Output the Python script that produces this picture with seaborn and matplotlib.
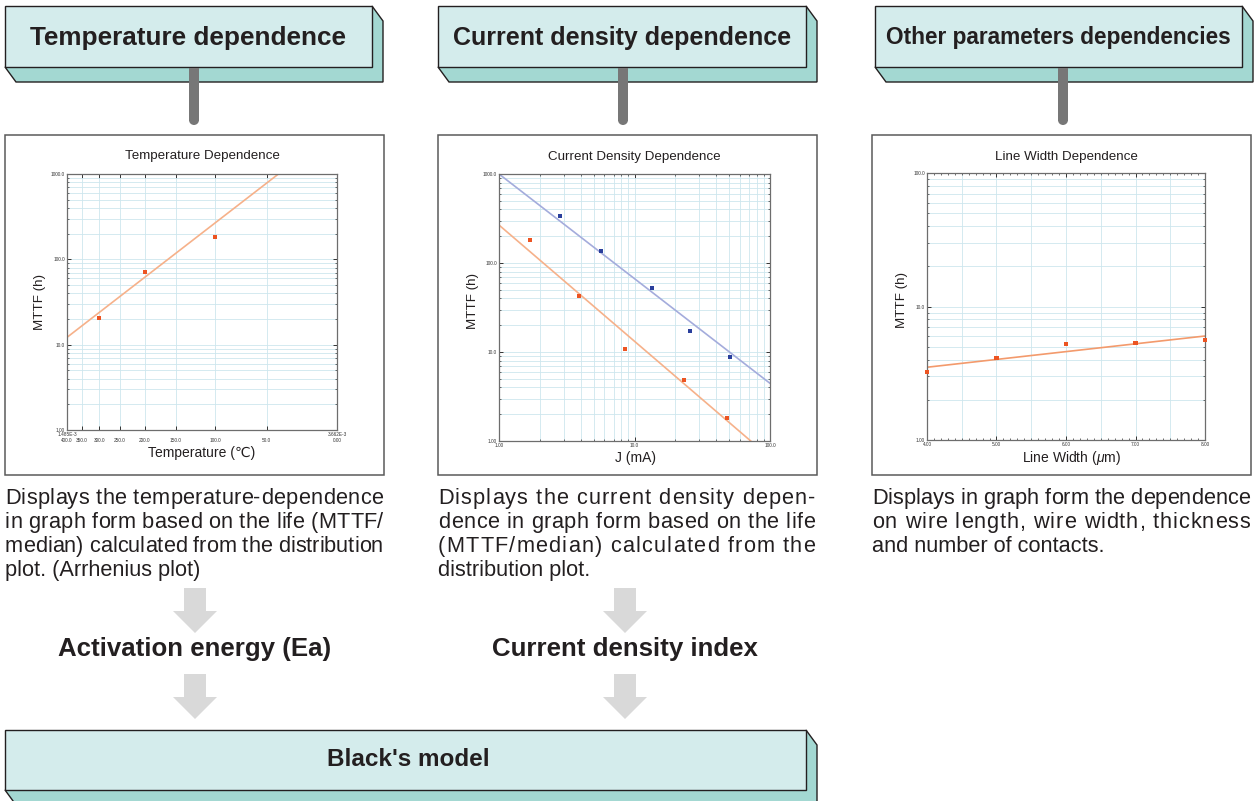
import numpy as np
import pandas as pd
import matplotlib
matplotlib.use("Agg")
import matplotlib.pyplot as plt
import seaborn as sns
from matplotlib.patches import Polygon, Rectangle, Circle
from matplotlib.ticker import FixedLocator, FixedFormatter, LogLocator, NullFormatter, MultipleLocator

# ---------------- data ----------------
header_titles = ["Temperature dependence", "Current density dependence", "Other parameters dependencies"]
chart_titles = ["Temperature Dependence", "Current Density Dependence", "Line Width Dependence"]
desc_lines_1 = ["Displays the temperature-dependence",
                "in graph form based on the life (MTTF/",
                "median) calculated from the distribution",
                "plot. (Arrhenius plot)"]
desc_lines_2 = ["Displays the current density depen-",
                "dence in graph form based on the life",
                "(MTTF/median) calculated from the",
                "distribution plot."]
desc_lines_3 = ["Displays in graph form the dependence",
                "on wire length, wire width, thickness",
                "and number of contacts."]
result_labels = ["Activation energy (Ea)", "Current density index"]
model_label = "Black's model"

# Temperature (Arrhenius) chart
temp_C = [300.0, 200.0, 100.0]
temp_mttf = [20.6, 71.7, 184.5]
temp_fit_Ea_eV = 0.223
temp_fit_log10A = -0.584
temp_tick_C = [400, 350, 300, 250, 200, 150, 100, 50, 0]
temp_tick_labels = ["1.485E-3\n400.0", "\n350.0", "\n300.0", "\n250.0", "\n200.0",
                    "\n150.0", "\n100.0", "\n50.0", "3.662E-3\n0.00"]
temp_y_ticks = [1, 10, 100, 1000]
temp_y_labels = ["1.00", "10.0", "100.0", "1000.0"]

# Current density chart
cd_J_blue = [2.83, 5.63, 13.5, 25.5, 50.4]
cd_mttf_blue = [337.0, 137.5, 52.8, 17.4, 8.85]
cd_J_orange = [1.69, 3.89, 8.47, 23.2, 48.4]
cd_mttf_orange = [181.0, 42.3, 10.7, 4.85, 1.83]
cd_fit_blue_A, cd_fit_blue_n = 1000.0, 1.176
cd_fit_orange_A, cd_fit_orange_n = 267.0, 1.306
cd_x_ticks = [1, 10, 100]
cd_x_labels = ["1.00", "10.0", "100.0"]
cd_y_ticks = [1, 10, 100, 1000]
cd_y_labels = ["1.00", "10.0", "100.0", "1000.0"]

# Line width chart
lw_width = [4.0, 5.0, 6.0, 7.0, 8.0]
lw_mttf = [3.21, 4.11, 5.21, 5.33, 5.64]
lw_fit_log10_a, lw_fit_log10_b = 0.311, 0.0585
lw_x_ticks = [4, 5, 6, 7, 8]
lw_x_labels = ["4.00", "5.00", "6.00", "7.00", "8.00"]
lw_y_ticks = [1, 10, 100]
lw_y_labels = ["1.00", "10.0", "100.0"]

# ---------------- style ----------------
sns.set_theme(style="white")
FAM = ["Liberation Sans", "DejaVu Sans"]
plt.rcParams["font.family"] = FAM
plt.rcParams["mathtext.fontset"] = "custom"
plt.rcParams["mathtext.it"] = "Liberation Sans:italic"
plt.rcParams["mathtext.rm"] = "Liberation Sans"

W, H = 1259, 801
fig = plt.figure(figsize=(W / 100, H / 100), dpi=100)
fig.patch.set_facecolor("white")

bg = fig.add_axes([0, 0, 1, 1], zorder=0)
bg.set_xlim(0, W)
bg.set_ylim(H, 0)
bg.axis("off")
renderer = fig.canvas.get_renderer()

FACE = "#d4ecec"
SIDE = "#a3d8d2"
GRID = "#cde6ee"
ORANGE_PT = "#ec5422"
ORANGE_LN = "#f6b18a"
BLUE_PT = "#2a3f9c"
BLUE_LN = "#a4acdc"
DK = "#231f20"


def box3d(x0, y0, x1, y1, dx=11, dy=15):
    side = Polygon([(x1, y0), (x1 + dx, y0 + dy), (x1 + dx, y1 + dy), (x0 + dx, y1 + dy),
                    (x0, y1), (x1, y1)], closed=True, facecolor=SIDE, edgecolor=DK, lw=1.0, zorder=1)
    bg.add_patch(side)
    bg.add_patch(Rectangle((x0, y0), x1 - x0, y1 - y0, facecolor=FACE, edgecolor=DK, lw=1.0, zorder=2))


def arrow(cx, ytop, ybot, shaft=11, head=22, hl=22):
    pts = [(cx - shaft, ytop), (cx + shaft, ytop), (cx + shaft, ybot - hl), (cx + head, ybot - hl),
           (cx, ybot), (cx - head, ybot - hl), (cx - shaft, ybot - hl)]
    bg.add_patch(Polygon(pts, closed=True, facecolor="#d9d9d9", edgecolor="none", zorder=1))


def text_width(s, fs):
    t = bg.text(0, 0, s, fontsize=fs)
    w = t.get_window_extent(renderer=renderer).width
    t.remove()
    return w


def justified_line(x0, y, line, width, fs):
    """Letter-spaced justification: spread extra space over every character gap."""
    wx = text_width("x", fs)
    pos = [text_width(line[:i] + "x", fs) - wx for i in range(len(line))]
    natural = text_width(line, fs)
    extra = (width - natural) / max(len(line) - 1, 1)
    for i, ch in enumerate(line):
        if ch == " ":
            continue
        bg.text(x0 + pos[i] + i * extra, y, ch, ha="left", va="baseline",
                fontsize=fs, color=DK, zorder=3)


# headers
header_boxes = [(5, 6, 372, 67), (438, 6, 806, 67), (875, 6, 1242, 67)]
header_sizes = [18.8, 18.0, 16.3]
connector_x = [194, 623, 1063]
for (x0, y0, x1, y1), t, fs, cx in zip(header_boxes, header_titles, header_sizes, connector_x):
    box3d(x0, y0, x1, y1)
    bg.text((x0 + x1) / 2, (y0 + y1) / 2 + 1, t, ha="center", va="center", fontsize=fs,
            fontweight="bold", color=DK, zorder=3)
    bg.add_patch(Rectangle((cx - 5, y1 + 0.5), 10, 120 - y1, facecolor="#777777", edgecolor="none", zorder=3))
    bg.add_patch(Circle((cx, 120), 5, facecolor="#777777", edgecolor="none", zorder=3))

# panels
panels = [(5, 135, 384, 475), (438, 135, 817, 475), (872, 135, 1251, 475)]
for (x0, y0, x1, y1) in panels:
    bg.add_patch(Rectangle((x0, y0), x1 - x0, y1 - y0, facecolor="white",
                           edgecolor="#5a5a5a", lw=1.1, zorder=1))

# descriptions
DESC_FS = 15.7
for x0, width, lines in zip([5, 438, 872], [378, 377, 378], [desc_lines_1, desc_lines_2, desc_lines_3]):
    for i, ln in enumerate(lines):
        yb = 497 + 24 * i + 7
        if i < len(lines) - 1:
            justified_line(x0, yb, ln, width, DESC_FS)
        else:
            bg.text(x0, yb, ln, ha="left", va="baseline", fontsize=DESC_FS, color=DK, zorder=3)

# arrows and results
for cx, lab in zip([195, 625], result_labels):
    arrow(cx, 588, 633)
    bg.text(cx, 649, lab, ha="center", va="center", fontsize=18.6, fontweight="bold", color=DK, zorder=3)
    arrow(cx, 674, 719)

box3d(5, 730, 806, 790)
bg.text(408, 760, model_label, ha="center", va="center", fontsize=17.5, fontweight="bold", color=DK, zorder=3)


# ---------------- charts ----------------
def make_ax(x0, y0, x1, y1):
    ax = fig.add_axes([x0 / W, 1 - y1 / H, (x1 - x0) / W, (y1 - y0) / H], zorder=2)
    ax.set_facecolor("white")
    for s in ax.spines.values():
        s.set_color("#6d6d6d")
        s.set_linewidth(0.9)
        s.set_visible(True)
    ax.tick_params(which="both", direction="in", top=True, right=True, bottom=True, left=True,
                   labelsize=3.4, colors="#333333", pad=1.5)
    ax.tick_params(which="major", length=3, width=0.7)
    ax.tick_params(which="minor", length=1.6, width=0.5)
    return ax


def labels(ax, title, xl, yl, title_pad, xl_y, xl_x, yl_x, yl_y):
    ax.set_title(title, fontsize=9.6, pad=title_pad, color=DK)
    ax.set_xlabel(xl, fontsize=10, color=DK)
    ax.set_ylabel(yl, fontsize=9.6, color=DK)
    ax.xaxis.set_label_coords(xl_x, xl_y)
    ax.xaxis.label.set_va("center")
    ax.yaxis.set_label_coords(yl_x, yl_y)
    ax.yaxis.label.set_va("center")


MS = 9

# Temperature chart (x = 1/T in 1/K, labelled in deg C)
kB = 8.617333e-5
ax1 = make_ax(67, 174, 337, 430)
ax1.set_yscale("log")
ax1.set_ylim(1, 1000)
inv = lambda c: 1.0 / (np.asarray(c, dtype=float) + 273.15)
ax1.set_xlim(inv(400), inv(0))
ax1.xaxis.set_major_locator(FixedLocator(inv(temp_tick_C)))
ax1.xaxis.set_major_formatter(FixedFormatter(temp_tick_labels))
ax1.yaxis.set_major_locator(FixedLocator(temp_y_ticks))
ax1.yaxis.set_major_formatter(FixedFormatter(temp_y_labels))
ax1.yaxis.set_minor_locator(LogLocator(base=10, subs=np.arange(2, 10)))
ax1.yaxis.set_minor_formatter(NullFormatter())
ax1.grid(True, which="both", color=GRID, lw=0.6)
ax1.set_axisbelow(True)
b = temp_fit_Ea_eV / (kB * np.log(10))
xf = np.linspace(inv(400), inv(0), 300)
fit_t = pd.DataFrame({"x": xf, "y": 10 ** (temp_fit_log10A + b * xf)})
sns.lineplot(data=fit_t, x="x", y="y", ax=ax1, color=ORANGE_LN, lw=1.2)
pts_t = pd.DataFrame({"x": inv(temp_C), "y": temp_mttf})
sns.scatterplot(data=pts_t, x="x", y="y", ax=ax1, color=ORANGE_PT, marker="s", s=MS, edgecolor="none", zorder=5)
labels(ax1, chart_titles[0], "Temperature (\u2103)", "MTTF (h)", 11, -0.09, 0.5, -0.1, 0.5)

# Current density chart
ax2 = make_ax(499, 174, 770, 441)
ax2.set_xscale("log")
ax2.set_yscale("log")
ax2.set_xlim(1, 100)
ax2.set_ylim(1, 1000)
ax2.xaxis.set_major_locator(FixedLocator(cd_x_ticks))
ax2.xaxis.set_major_formatter(FixedFormatter(cd_x_labels))
ax2.yaxis.set_major_locator(FixedLocator(cd_y_ticks))
ax2.yaxis.set_major_formatter(FixedFormatter(cd_y_labels))
for axis in (ax2.xaxis, ax2.yaxis):
    axis.set_minor_locator(LogLocator(base=10, subs=np.arange(2, 10)))
    axis.set_minor_formatter(NullFormatter())
ax2.grid(True, which="both", color=GRID, lw=0.6)
ax2.set_axisbelow(True)
Jf = np.logspace(0, 2, 200)
sns.lineplot(x=Jf, y=cd_fit_blue_A * Jf ** (-cd_fit_blue_n), ax=ax2, color=BLUE_LN, lw=1.2)
sns.lineplot(x=Jf, y=cd_fit_orange_A * Jf ** (-cd_fit_orange_n), ax=ax2, color=ORANGE_LN, lw=1.2)
sns.scatterplot(x=cd_J_blue, y=cd_mttf_blue, ax=ax2, color=BLUE_PT, marker="s", s=MS, edgecolor="none", zorder=5)
sns.scatterplot(x=cd_J_orange, y=cd_mttf_orange, ax=ax2, color=ORANGE_PT, marker="s", s=MS, edgecolor="none", zorder=5)
labels(ax2, chart_titles[1], "J (mA)", "MTTF (h)", 10, -0.064, 0.505, -0.096, 0.526)

# Line width chart
ax3 = make_ax(927, 173, 1205, 440)
ax3.set_yscale("log")
ax3.set_xlim(4, 8)
ax3.set_ylim(1, 100)
ax3.xaxis.set_major_locator(FixedLocator(lw_x_ticks))
ax3.xaxis.set_major_formatter(FixedFormatter(lw_x_labels))
ax3.xaxis.set_minor_locator(MultipleLocator(0.1))
ax3.yaxis.set_major_locator(FixedLocator(lw_y_ticks))
ax3.yaxis.set_major_formatter(FixedFormatter(lw_y_labels))
ax3.yaxis.set_minor_locator(LogLocator(base=10, subs=np.arange(2, 10)))
ax3.yaxis.set_minor_formatter(NullFormatter())
ax3.grid(True, which="both", axis="y", color=GRID, lw=0.6)
for gx in np.arange(4.5, 8.0, 0.5):
    ax3.axvline(gx, color=GRID, lw=0.6, zorder=0)
ax3.set_axisbelow(True)
wf = np.linspace(4, 8, 100)
sns.lineplot(x=wf, y=10 ** (lw_fit_log10_a + lw_fit_log10_b * wf), ax=ax3, color="#f39a6c", lw=1.2)
sns.scatterplot(x=lw_width, y=lw_mttf, ax=ax3, color=ORANGE_PT, marker="s", s=MS, edgecolor="none",
                zorder=5, clip_on=False)
labels(ax3, chart_titles[2], r"Line Width ($\mu$m)", "MTTF (h)", 9.5, -0.067, 0.52, -0.09, 0.524)

fig.savefig("out.png", dpi=100, facecolor="white")
